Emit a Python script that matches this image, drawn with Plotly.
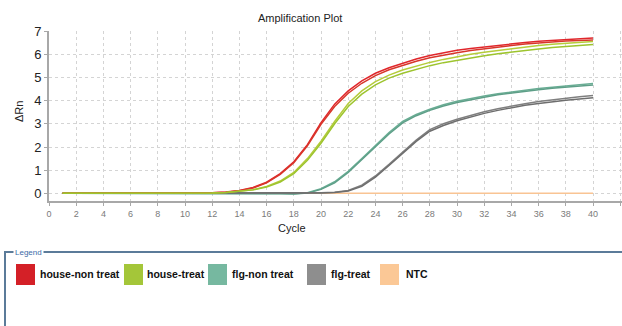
import plotly.graph_objects as go

cycles = list(range(1, 41))

red_a = [0, 0, 0, 0, 0, 0, 0, 0, 0.01, 0.01, 0.02, 0.03, 0.06, 0.12, 0.25, 0.48, 0.85, 1.36, 2.1, 3.05,
         3.85, 4.42, 4.85, 5.18, 5.42, 5.62, 5.8, 5.95, 6.07, 6.17, 6.25, 6.32, 6.4, 6.46, 6.51, 6.56, 6.6, 6.64, 6.67, 6.7]
red_b = [0, 0, 0, 0, 0, 0, 0, 0, 0.01, 0.01, 0.02, 0.03, 0.05, 0.11, 0.23, 0.45, 0.82, 1.32, 2.05, 2.98,
         3.75, 4.32, 4.75, 5.08, 5.33, 5.53, 5.7, 5.85, 5.97, 6.07, 6.16, 6.24, 6.32, 6.38, 6.44, 6.49, 6.53, 6.57, 6.6, 6.62]
green_a = [0, 0, 0, 0, 0, 0, 0, 0, 0, 0.01, 0.01, 0.02, 0.04, 0.08, 0.15, 0.27, 0.49, 0.85, 1.43, 2.16,
           3.0, 3.75, 4.28, 4.68, 4.97, 5.18, 5.36, 5.51, 5.64, 5.75, 5.85, 5.94, 6.02, 6.1, 6.17, 6.23, 6.29, 6.34, 6.38, 6.42]
green_b = [0, 0, 0, 0, 0, 0, 0, 0, 0, 0.01, 0.01, 0.02, 0.04, 0.09, 0.16, 0.3, 0.53, 0.9, 1.5, 2.25,
           3.1, 3.88, 4.42, 4.82, 5.1, 5.32, 5.5, 5.65, 5.78, 5.9, 6.0, 6.09, 6.17, 6.25, 6.32, 6.38, 6.43, 6.48, 6.52, 6.55]
teal_a = [0, 0, 0, 0, 0, 0, 0, 0, 0, 0.01, 0.01, 0.01, 0.01, 0.01, 0.01, 0.01, 0.0, -0.02, 0.03, 0.2,
          0.5, 0.95, 1.5, 2.08, 2.62, 3.1, 3.4, 3.63, 3.82, 3.97, 4.1, 4.2, 4.3, 4.38, 4.45, 4.52, 4.58, 4.63, 4.68, 4.74]
teal_b = [0, 0, 0, 0, 0, 0, 0, 0, 0, 0.01, 0.01, 0.01, 0.01, 0.01, 0.01, 0.0, -0.01, -0.03, 0.01, 0.17,
          0.45, 0.9, 1.44, 2.02, 2.56, 3.04, 3.35, 3.58, 3.77, 3.92, 4.05, 4.15, 4.25, 4.33, 4.41, 4.47, 4.53, 4.58, 4.63, 4.67]
gray_a = [0, 0, 0, 0, 0, 0, 0, 0, 0.01, 0.02, 0.02, 0.03, 0.03, 0.03, 0.03, 0.03, 0.03, 0.03, 0.03, 0.03,
          0.05, 0.12, 0.35, 0.75, 1.25, 1.78, 2.3, 2.75, 3.0, 3.2, 3.37, 3.52, 3.65, 3.77, 3.87, 3.96, 4.04, 4.11, 4.17, 4.22]
gray_b = [0, 0, 0, 0, 0, 0, 0, 0, 0.01, 0.02, 0.02, 0.02, 0.03, 0.03, 0.03, 0.03, 0.03, 0.03, 0.02, 0.02,
          0.04, 0.1, 0.3, 0.7, 1.2, 1.72, 2.24, 2.68, 2.93, 3.13, 3.3, 3.45, 3.58, 3.7, 3.8, 3.88, 3.96, 4.02, 4.07, 4.12]
ntc = [0] * 40

legend_names = ["house-non treat", "house-treat", "flg-non treat", "flg-treat", "NTC"]
legend_colors = ["#D42027", "#A4C639", "#76B8A0", "#8E8E8E", "#FBC896"]
x_ticks = list(range(0, 43, 2))
y_ticks = list(range(0, 8))

W, H = 622, 326
L, R, T, B = 49, 0, 31, 125
PW, PH = W - L - R, H - T - B
FONT = "Arial, Liberation Sans"


def xp(px):
    return (px - L) / PW


def yp(py):
    return (H - B - py) / PH


fig = go.Figure()

series = [
    (ntc, "#F9C493"),
    (teal_a, "#6AAE95"), (teal_b, "#5E9F88"),
    (gray_a, "#7F7F7F"), (gray_b, "#6E6E6E"),
    (red_a, "#E0262B"), (red_b, "#D8362A"),
    (green_b, "#B5CC3A"), (green_a, "#9DC42E"),
]
for vals, col in series:
    fig.add_trace(go.Scatter(x=cycles, y=vals, mode="lines",
                             line=dict(color=col, width=1.5), showlegend=False,
                             hoverinfo="skip"))

fig.update_xaxes(range=[0, 42.13], tickvals=x_ticks, showgrid=True,
                 gridcolor="#D4D4D4", griddash="dot", gridwidth=1,
                 showline=True, linecolor="#A8A8A8", linewidth=2,
                 ticks="outside", ticklen=3, tickcolor="#A8A8A8",
                 tickfont=dict(size=9, color="#7A7A7A", family=FONT),
                 zeroline=False)
fig.update_yaxes(range=[-0.33, 7.005], tickvals=y_ticks, showgrid=True,
                 gridcolor="#D4D4D4", griddash="dot", gridwidth=1,
                 showline=True, linecolor="#A8A8A8", linewidth=2,
                 ticks="outside", ticklen=3, tickcolor="#A8A8A8",
                 tickfont=dict(size=13, color="#222222", family=FONT),
                 zeroline=False)

shapes = [
    dict(type="line", xref="paper", yref="paper", x0=xp(5), x1=xp(622), y0=yp(252), y1=yp(252),
         line=dict(color="#5B7B99", width=2)),
    dict(type="line", xref="paper", yref="paper", x0=xp(5), x1=xp(5), y0=yp(251), y1=yp(330),
         line=dict(color="#5B7B99", width=2)),
]
annotations = [
    dict(text="Amplification Plot", xref="paper", yref="paper", x=xp(300), y=yp(18),
         xanchor="center", yanchor="middle",
         showarrow=False, font=dict(size=11, color="#222222", family=FONT)),
    dict(text="ΔRn", xref="paper", yref="paper", x=xp(19), y=yp(112), textangle=-90,
         xanchor="center", yanchor="middle",
         showarrow=False, font=dict(size=11, color="#222222", family=FONT)),
    dict(text="Cycle", xref="paper", yref="paper", x=xp(292), y=yp(228),
         xanchor="center", yanchor="middle",
         showarrow=False, font=dict(size=11, color="#222222", family=FONT)),
    dict(text="Legend", xref="paper", yref="paper", x=xp(13), y=yp(252), xanchor="left",
         yanchor="middle", showarrow=False, bgcolor="white", borderpad=1,
         font=dict(size=8, color="#3B6AA6", family=FONT)),
]

sq_x = [16, 124, 208, 307, 380]
tx_x = [38, 145, 230, 329, 404]
for name, col, sx, tx in zip(legend_names, legend_colors, sq_x, tx_x):
    shapes.append(dict(type="rect", xref="paper", yref="paper", x0=xp(sx), x1=xp(sx + 19),
                       y0=yp(285), y1=yp(264), fillcolor=col, line=dict(width=0)))
    annotations.append(dict(text="<b>%s</b>" % name, xref="paper", yref="paper", x=xp(tx), y=yp(274),
                            xanchor="left", yanchor="middle", showarrow=False,
                            font=dict(size=10.5, color="#111111", family=FONT)))

fig.update_layout(width=W, height=H, margin=dict(l=L, r=R, t=T, b=B),
                  paper_bgcolor="white", plot_bgcolor="white",
                  shapes=shapes, annotations=annotations, showlegend=False)

fig.write_html("out.html", config={"displayModeBar": False},
               post_script="document.body.style.margin='0';document.body.style.padding='0';document.body.style.overflow='hidden';")
